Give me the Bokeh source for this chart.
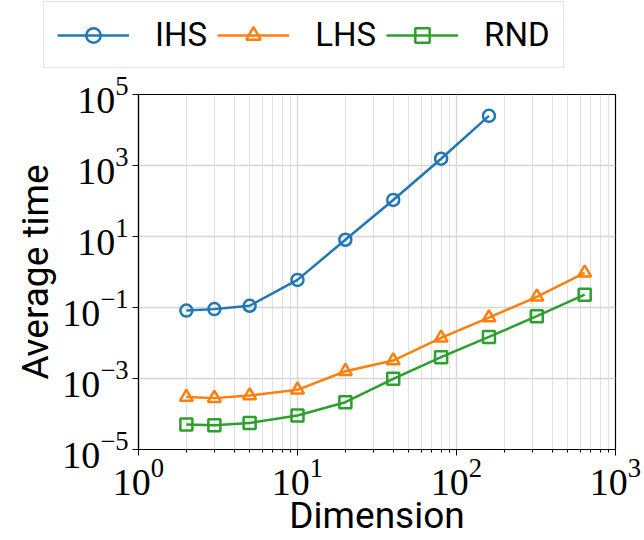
from bokeh.plotting import figure
from bokeh.layouts import column, row
from bokeh.models import FixedTicker, Legend, LegendItem, Range1d
from bokeh.embed import file_html
from bokeh.resources import INLINE

# Data
dims_ihs = [2, 3, 5, 10, 20, 40, 80, 160]
ihs_time = [0.082, 0.090, 0.112, 0.60, 8.1, 107, 1550, 25000]

dims = [2, 3, 5, 10, 20, 40, 80, 160, 320, 640]
lhs_time = [3.0e-4, 2.8e-4, 3.3e-4, 4.8e-4, 1.6e-3, 3.2e-3, 1.4e-2, 5.2e-2, 0.20, 0.95]
rnd_time = [5.1e-5, 4.8e-5, 5.6e-5, 9.1e-5, 2.15e-4, 9.8e-4, 4.0e-3, 1.48e-2, 5.7e-2, 0.23]

series_names = ["IHS", "LHS", "RND"]

x_major = [1, 10, 100, 1000]
x_minor = [m * 10 ** k for k in range(3) for m in range(2, 10)]
y_major = [1e-5, 1e-3, 1e-1, 1e1, 1e3, 1e5]

c_ihs, c_lhs, c_rnd = "#1f77b4", "#ff7f0e", "#2ca02c"
lw = 2.5
series = [(series_names[0], dims_ihs, ihs_time, c_ihs, "circle", 12),
          (series_names[1], dims, lhs_time, c_lhs, "triangle", 13),
          (series_names[2], dims, rnd_time, c_rnd, "square", 12)]

# ---- main plot ----
p = figure(frame_width=477, frame_height=355, x_axis_type="log", y_axis_type="log",
           x_range=(1, 1000), y_range=(1e-5, 1e5),
           output_backend="svg", toolbar_location=None,
           min_border_left=138, min_border_right=29,
           min_border_top=24, min_border_bottom=91)

p.xaxis.ticker = FixedTicker(ticks=x_major, minor_ticks=x_minor)
p.yaxis.ticker = FixedTicker(ticks=y_major, minor_ticks=[])

p.xgrid.grid_line_color = "#d6d6d6"
p.xgrid.grid_line_width = 1.4
p.xgrid.minor_grid_line_color = "#e0e0e0"
p.xgrid.minor_grid_line_width = 1.0
p.ygrid.grid_line_color = "#d6d6d6"
p.ygrid.grid_line_width = 1.4

p.outline_line_color = "black"
p.outline_line_width = 1.2

for ax in (p.xaxis, p.yaxis):
    ax.axis_line_color = "black"
    ax.axis_line_width = 1.2
    ax.major_tick_line_color = "black"
    ax.minor_tick_line_color = "black"
    ax.major_tick_in = 0
    ax.major_tick_out = 6
    ax.minor_tick_in = 0
    ax.minor_tick_out = 3
    ax.major_label_text_font = "Liberation Serif"
    ax.major_label_text_font_size = "38px"
    ax.major_label_text_color = "black"
    ax.axis_label_text_font = "Roboto"
    ax.axis_label_text_font_size = "37px"
    ax.axis_label_text_font_style = "normal"
    ax.axis_label_text_color = "black"

p.xaxis.axis_label = "Dimension"
p.yaxis.axis_label = "Average time"
p.xaxis.major_label_standoff = 3
p.yaxis.major_label_standoff = 4
p.xaxis.axis_label_standoff = -4
p.yaxis.axis_label_standoff = 2

for name, xs, ys, col, mk, sz in series:
    p.line(xs, ys, line_color=col, line_width=lw)
    p.scatter(xs, ys, marker=mk, size=sz, fill_color=None,
              line_color=col, line_width=lw)

# ---- legend strip on top (its own renderers lie outside its visible range) ----
lg = figure(width=644, height=70, output_backend="svg", toolbar_location=None,
            x_axis_location=None, y_axis_location=None,
            x_range=Range1d(-1, 0), y_range=Range1d(-1, 0),
            min_border=0, outline_line_color=None)
lg.grid.visible = False
items = []
for name, xs, ys, col, mk, sz in series:
    rl = lg.line(xs, ys, line_color=col, line_width=lw)
    rs = lg.scatter(xs, ys, marker=mk, size=sz, fill_color=None,
                    line_color=col, line_width=lw)
    items.append(LegendItem(label=name, renderers=[rl, rs]))

legend = Legend(items=items, orientation="horizontal", location=(43, 2), margin=0,
                padding=13, spacing=10, glyph_width=72, glyph_height=36,
                label_height=36, label_standoff=26,
                label_text_font="Roboto", label_text_font_size="33px",
                label_text_color="black",
                border_line_color="#cccccc", border_line_width=1,
                background_fill_color="white", background_fill_alpha=1)
lg.add_layout(legend, "center")

layout = column(row(lg), p, spacing=0)
open("out.html", "w").write(file_html(layout, INLINE))
